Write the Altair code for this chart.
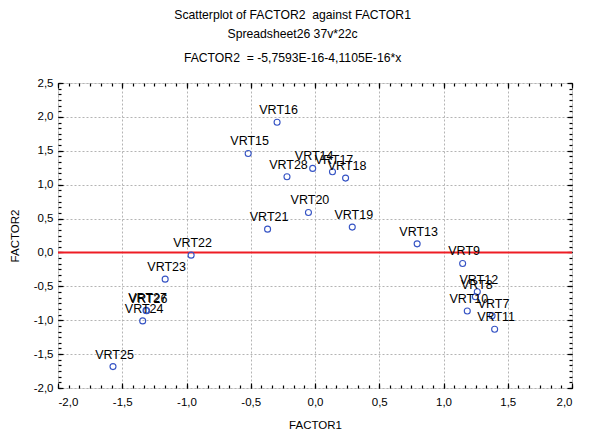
import altair as alt
import pandas as pd

labels = ["VRT7", "VRT8", "VRT9", "VRT10", "VRT11", "VRT12", "VRT13", "VRT14",
          "VRT15", "VRT16", "VRT17", "VRT18", "VRT19", "VRT20", "VRT21", "VRT22",
          "VRT23", "VRT24", "VRT25", "VRT26", "VRT27", "VRT28"]
factor1 = [1.378, 1.248, 1.149, 1.185, 1.398, 1.263, 0.795, -0.018,
           -0.520, -0.295, 0.136, 0.238, 0.290, -0.051, -0.369, -0.964,
           -1.166, -1.341, -1.572, -1.310, -1.315, -0.218]
factor2 = [-0.934, -0.653, -0.163, -0.863, -1.133, -0.579, 0.127, 1.240,
           1.460, 1.920, 1.190, 1.097, 0.374, 0.590, 0.344, -0.040,
           -0.394, -1.010, -1.684, -0.860, -0.855, 1.117]
intercept = -5.7593e-16
slope = -4.1105e-16
x_ticks = [-2.0, -1.5, -1.0, -0.5, 0.0, 0.5, 1.0, 1.5, 2.0]
y_ticks = [-2.0, -1.5, -1.0, -0.5, 0.0, 0.5, 1.0, 1.5, 2.0, 2.5]
x_minor = [round(-2.0 + i * 0.5 / 6, 4) for i in range(49)]
y_minor = [round(-2.0 + i * 0.5 / 6, 4) for i in range(55)]

df = pd.DataFrame({"label": labels, "x": factor1, "y": factor2})
line_x = [-2.0, 2.0]
df_line = pd.DataFrame({"x": line_x, "y": [intercept + slope * v for v in line_x]})

FONT = "Liberation Sans"
LBL = "(datum.value < 0 ? '-' : '') + replace(format(abs(datum.value), '.1f'), '.', ',')"

xs = alt.Scale(domain=[-2, 2], nice=False, zero=False)
ys = alt.Scale(domain=[-2, 2.5], nice=False, zero=False)


def axis(orient, values, size, main=False, title=None):
    kw = dict(orient=orient, values=values, tickSize=size, offset=-size,
              domain=False, tickColor="black", tickWidth=1.2)
    if main:
        vertical = orient in ("left", "right")
        kw.update(grid=True, gridColor="#b4b4b4", gridDash=[2, 2], gridWidth=1,
                  labels=True, labelExpr=LBL, labelFont=FONT, labelFontSize=11.5,
                  labelColor="black", labelPadding=5 if vertical else 8,
                  title=title, titleFont=FONT, titleFontSize=11.5,
                  titleFontWeight="normal", titleColor="black",
                  titlePadding=13 if vertical else 12)
    else:
        kw.update(grid=False, labels=False, title=None)
    return alt.Axis(**kw)


line = alt.Chart(df_line).mark_line(color="#ee1c24", strokeWidth=2).encode(
    x=alt.X("x:Q", scale=xs, axis=axis("bottom", x_ticks, 5, True, "FACTOR1")),
    y=alt.Y("y:Q", scale=ys, axis=axis("left", y_ticks, 5, True, "FACTOR2")),
)

points = alt.Chart(df).mark_point(shape="circle", filled=False, size=36,
                                  strokeWidth=1.1, color="#3553c4", opacity=1).encode(
    x=alt.X("x:Q", scale=xs, axis=axis("bottom", x_minor, 3)),
    y=alt.Y("y:Q", scale=ys, axis=axis("left", y_minor, 3)),
)

text = alt.Chart(df).mark_text(align="center", baseline="alphabetic", dx=1.5, dy=-8,
                               font=FONT, fontSize=12.5, color="black").encode(
    x=alt.X("x:Q", scale=xs, axis=axis("top", x_ticks, 5)),
    y=alt.Y("y:Q", scale=ys, axis=axis("right", y_ticks, 5)),
    text="label:N",
)

dummy = alt.Chart(df).mark_point(opacity=0).encode(
    x=alt.X("x:Q", scale=xs, axis=axis("top", x_minor, 3)),
    y=alt.Y("y:Q", scale=ys, axis=axis("right", y_minor, 3)),
)

chart = alt.layer(line, points, text, dummy).resolve_axis(
    x="independent", y="independent"
).properties(
    width=514,
    height=305,
    autosize=alt.AutoSizeParams(type="none"),
    padding={"left": 50, "top": 75, "right": 9, "bottom": 44},
    title=alt.Title(
        text=["Scatterplot of FACTOR2\u00a0 against FACTOR1", "Spreadsheet26 37v*22c"],
        subtitle="FACTOR2\u00a0 = -5,7593E-16-4,1105E-16*x",
        anchor="middle", frame="bounds", font=FONT, fontSize=12.2,
        fontWeight="normal", lineHeight=19, color="black",
        subtitleFont=FONT, subtitleFontSize=12.2, subtitleColor="black",
        subtitlePadding=11.5, offset=13,
    ),
).configure_view(stroke="black", strokeWidth=1.5).configure(background="white")

chart.save("out.html", embed_options={"renderer": "svg", "actions": False})
